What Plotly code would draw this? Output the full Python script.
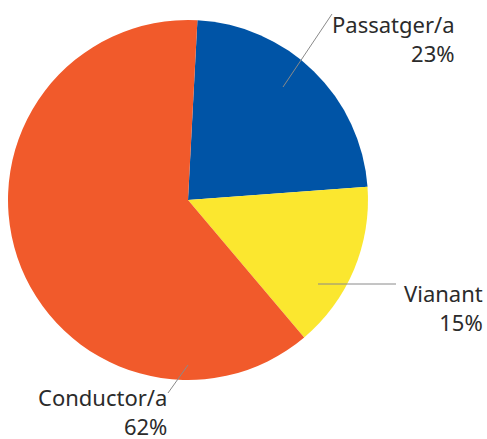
import plotly.graph_objects as go

# Dades del gràfic
categories = ["Passatger/a", "Vianant", "Conductor/a"]
valors = [23, 15, 62]
colors = ["#0054A6", "#FBE72F", "#F15A2B"]

W, H = 487, 439


def px(x, y):
    """Converteix píxels (origen a dalt a l'esquerra) a coordenades paper."""
    return x / W, 1 - y / H


cx, cy, r = 188, 200, 180
x0, y1 = px(cx - r, cy - r)
x1, y0 = px(cx + r, cy + r)

fig = go.Figure(go.Pie(
    labels=categories,
    values=valors,
    sort=False,
    direction="clockwise",
    rotation=3,
    marker=dict(colors=colors, line=dict(width=0)),
    textinfo="none",
    hoverinfo="label+percent",
    domain=dict(x=[x0, x1], y=[y0, y1]),
    showlegend=False,
))

# línies guia i etiquetes
guies = [
    ((283, 87), (332, 14)),
    ((318, 284), (396, 284)),
    ((188, 365), (168, 393)),
]
etiquetes = [(457, 7), (485, 276), (169, 380)]

for i, ((xa, ya), (xb, yb)) in enumerate(guies):
    ax_, ay_ = px(xa, ya)
    bx_, by_ = px(xb, yb)
    fig.add_shape(type="line", xref="paper", yref="paper",
                  x0=ax_, y0=ay_, x1=bx_, y1=by_,
                  line=dict(color="#8a8a8a", width=1))
    tx, ty = px(*etiquetes[i])
    fig.add_annotation(
        x=tx, y=ty, xref="paper", yref="paper",
        xanchor="right", yanchor="top", align="right",
        text=f"{categories[i]}<br>{valors[i]}%",
        showarrow=False,
        font=dict(family="Noto Sans", size=22, color="#2b2b2b"),
    )

fig.update_layout(
    width=W, height=H,
    margin=dict(l=0, r=0, t=0, b=0),
    paper_bgcolor="white",
    plot_bgcolor="white",
)

fig.write_html(
    "out.html",
    config={"displayModeBar": False},
    post_script="document.body.style.margin='0';document.body.style.overflow='hidden';",
)
